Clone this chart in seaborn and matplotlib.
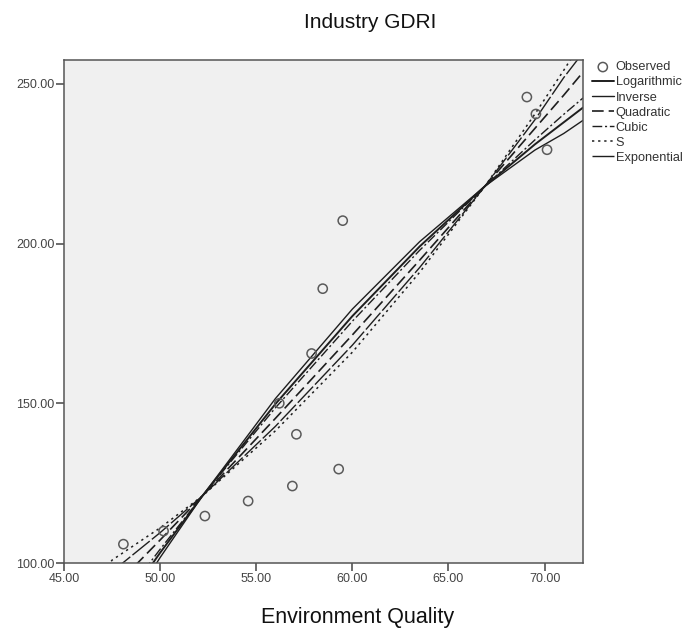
import numpy as np
import pandas as pd
import matplotlib
matplotlib.use("Agg")
import matplotlib.pyplot as plt
import matplotlib.ticker as mticker
import seaborn as sns

# observed points
env_quality = [48.09, 50.18, 52.33, 54.58, 56.88, 59.29, 57.09, 56.20,
               59.50, 58.46, 57.88, 69.08, 69.55, 70.13]
industry_gdri = [105.9, 110.0, 114.7, 119.4, 124.1, 129.4, 140.3, 150.0,
                 207.2, 185.9, 165.6, 245.9, 240.6, 229.4]

# fitted curves at a few x positions
curve_x = [46.0, 47.5, 50.0, 52.2, 56.0, 60.0, 63.5, 66.9, 69.5, 71.0, 72.0]
fit_log = [70.0, 81.8, 103.2, 121.0, 149.8, 177.3, 199.1, 218.0, 231.1, 238.0, 242.6]
fit_inverse = [62.0, 78.1, 101.7, 121.0, 151.5, 179.5, 200.6, 218.0, 229.3, 234.5, 238.6]
fit_quadratic = [79.0, 91.8, 107.2, 121.0, 145.3, 171.4, 194.8, 218.0, 236.1, 246.5, 253.7]
fit_cubic = [73.0, 84.5, 104.3, 121.0, 148.6, 175.7, 197.9, 218.0, 232.5, 240.5, 245.6]
fit_s = [88.0, 100.9, 111.0, 121.0, 141.4, 166.0, 191.0, 218.0, 240.6, 254.3, 263.8]
fit_exponential = [85.0, 97.3, 109.5, 121.0, 142.8, 168.2, 192.5, 218.0, 238.8, 252.0, 259.8]

model_names = ["Logarithmic", "Inverse", "Quadratic", "Cubic", "S", "Exponential"]
model_values = [fit_log, fit_inverse, fit_quadratic, fit_cubic, fit_s, fit_exponential]
model_styles = ["-", "-", (0, (7, 3)), (0, (7, 2, 1.5, 2)), (0, (1.5, 2.5)), (0, (16, 2))]
model_widths = [1.4, 1.0, 1.2, 1.0, 1.1, 1.0]

sns.set_theme(style="white")
plt.rcParams["font.family"] = ["Liberation Sans", "DejaVu Sans"]

fig = plt.figure(figsize=(6.85, 6.38), dpi=100)
ax = fig.add_axes([64 / 685, 1 - 563 / 638, (583 - 64) / 685, (563 - 60) / 638])
ax.set_facecolor("#f0f0f0")

obs = pd.DataFrame({"x": env_quality, "y": industry_gdri})
sns.scatterplot(data=obs, x="x", y="y", ax=ax, marker="o", s=44,
                facecolors="none", edgecolor="#5a5a5a", linewidth=1.1,
                label="Observed", zorder=3)

for name, vals, ls, lw in zip(model_names, model_values, model_styles, model_widths):
    df = pd.DataFrame({"x": curve_x, "y": vals})
    sns.lineplot(data=df, x="x", y="y", ax=ax, color="#1e1e1e",
                 linestyle=ls, linewidth=lw, label=name, zorder=2)

ax.set_xlim(45, 72)
ax.set_ylim(100, 257.5)
ax.set_xticks([45, 50, 55, 60, 65, 70])
ax.set_yticks([100, 150, 200, 250])
ax.xaxis.set_major_formatter(mticker.FormatStrFormatter("%.2f"))
ax.yaxis.set_major_formatter(mticker.FormatStrFormatter("%.2f"))
ax.tick_params(axis="both", direction="out", length=6, width=1.1, color="#444444",
               labelsize=9, labelcolor="#444444", bottom=True, left=True, pad=1)
for sp in ax.spines.values():
    sp.set_color("#555555")
    sp.set_linewidth(1.1)
ax.set_xlabel("")
ax.set_ylabel("")

leg = ax.legend(loc="upper left", bbox_to_anchor=(1.0, 1.015), frameon=False,
                fontsize=9.2, handlelength=1.7, handletextpad=0.15,
                labelspacing=0.24, borderaxespad=0.6, borderpad=0.1)
for t in leg.get_texts():
    t.set_color("#333333")

fig.text(370 / 685, 1 - 23 / 638, "Industry GDRI", ha="center", va="center",
         fontsize=15, color="#111111")
fig.text(358 / 685, 1 - 618 / 638, "Environment Quality", ha="center", va="center",
         fontsize=15.5, color="#111111")

fig.savefig("out.png", dpi=100)
